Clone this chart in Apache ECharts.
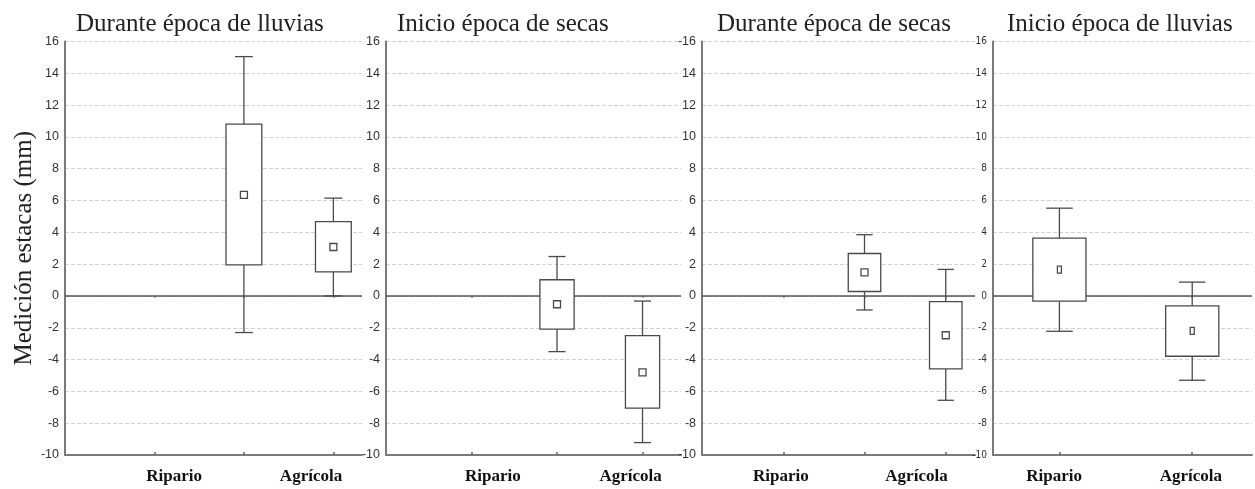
<!DOCTYPE html>
<html>
<head>
<meta charset="utf-8">
<script src="https://cdn.jsdelivr.net/npm/echarts@6/dist/echarts.min.js"></script>
<style>
  html, body { margin: 0; padding: 0; background: #fff; }
  #chart { width: 1255px; height: 489px; }
</style>
</head>
<body>
<div id="chart"></div>
<script>
// Medición de estacas (mm) por zona y época
const categories = ['Ripario', 'Agrícola'];
const panelTitles = [
  'Durante época de lluvias',
  'Inicio época de secas',
  'Durante época de secas',
  'Inicio época de lluvias'
];

// Each entry: [mínimo, Q1, centro, Q3, máximo] for Ripario and Agrícola
const duranteLluvias = [[-2.3, 1.95, 6.35, 10.8, 15.05], [0.0, 1.52, 3.08, 4.67, 6.15]];
const inicioSecas    = [[-3.5, -2.08, -0.52, 1.02, 2.48], [-9.22, -7.05, -4.8, -2.5, -0.32]];
const duranteSecas   = [[-0.88, 0.28, 1.48, 2.67, 3.85], [-6.56, -4.58, -2.47, -0.36, 1.67]];
const inicioLluvias  = [[-2.22, -0.33, 1.65, 3.64, 5.52], [-5.3, -3.79, -2.2, -0.62, 0.87]];
const panelData = [duranteLluvias, inicioSecas, duranteSecas, inicioLluvias];

// y tick labels (-10 … 16); the third panel prints its top tick as "-16"
const yTickLabels = ['-10', '-8', '-6', '-4', '-2', '0', '2', '4', '6', '8', '10', '12', '14', '16'];
const yTickLabelsSecas = ['-10', '-8', '-6', '-4', '-2', '0', '2', '4', '6', '8', '10', '12', '14', '-16'];
const panelTickLabels = [yTickLabels, yTickLabels, yTickLabelsSecas, yTickLabels];

// Panel geometry and slot positions on each x scale
const layout = [
  { left: 65,  width: 297, xMax: 3.32, slots: [2, 3],     ticks: [1, 2, 3],  labelAt: [1.22, 2.75], titleLeft: 71,  mark: [7, 7], narrow: false },
  { left: 386, width: 295, xMax: 3.45, slots: [2, 3],     ticks: [1, 2, 3],  labelAt: [1.25, 2.86], titleLeft: 392, mark: [7, 7], narrow: false },
  { left: 702, width: 273, xMax: 3.36, slots: [2, 3],     ticks: [1, 2, 3],  labelAt: [0.97, 2.64], titleLeft: 712, mark: [7, 7], narrow: false },
  { left: 993, width: 259, xMax: 1.95, slots: [0.5, 1.5], ticks: [0.5, 1.5], labelAt: [0.46, 1.49], titleLeft: 1002, mark: [4, 7], narrow: true }
];

const INK = '#4a4a4a';
const AXIS = '#7a7a7a';

function renderBox(mark) {
  return function (params, api) {
    const x = api.value(0);
    const lo = api.coord([x, api.value(1)]);
    const q1 = api.coord([x, api.value(2)]);
    const c = api.coord([x, api.value(3)]);
    const q3 = api.coord([x, api.value(4)]);
    const hi = api.coord([x, api.value(5)]);
    const bw = api.size([0.4, 0])[0];
    const cw = api.size([0.2, 0])[0];
    const st = { stroke: INK, lineWidth: 1.3, fill: null };
    return {
      type: 'group',
      children: [
        { type: 'line', shape: { x1: lo[0], y1: lo[1], x2: q1[0], y2: q1[1] }, style: st },
        { type: 'line', shape: { x1: q3[0], y1: q3[1], x2: hi[0], y2: hi[1] }, style: st },
        { type: 'line', shape: { x1: lo[0] - cw / 2, y1: lo[1], x2: lo[0] + cw / 2, y2: lo[1] }, style: st },
        { type: 'line', shape: { x1: hi[0] - cw / 2, y1: hi[1], x2: hi[0] + cw / 2, y2: hi[1] }, style: st },
        { type: 'rect', shape: { x: q3[0] - bw / 2, y: q3[1], width: bw, height: q1[1] - q3[1] },
          style: { stroke: INK, lineWidth: 1.3, fill: '#fff' } },
        { type: 'rect', shape: { x: c[0] - mark[0] / 2, y: c[1] - mark[1] / 2, width: mark[0], height: mark[1] },
          style: { stroke: INK, lineWidth: 1.3, fill: '#fff' } }
      ]
    };
  };
}

const grids = [], xAxes = [], yAxes = [], series = [], titles = [];

layout.forEach((L, i) => {
  grids.push({ left: L.left, width: L.width, top: 41.5, bottom: 34 });

  const labelAt = L.labelAt;
  // bottom axis: line, inward ticks and the category names
  xAxes.push({
    type: 'value', gridIndex: i, position: 'bottom', min: 0, max: L.xMax,
    axisLine: { show: true, onZero: false, lineStyle: { color: AXIS, width: 2 } },
    axisTick: { show: true, inside: true, length: 3, customValues: L.ticks, lineStyle: { color: '#666', width: 1.5 } },
    axisLabel: {
      show: true, customValues: labelAt, margin: 13,
      formatter: v => categories[labelAt.indexOf(v)] || '',
      fontFamily: 'Liberation Serif', fontWeight: 'bold', fontSize: 17, color: '#111'
    },
    splitLine: { show: false }
  });
  // top edge: tick marks only
  xAxes.push({
    type: 'value', gridIndex: i, position: 'top', min: 0, max: L.xMax,
    axisLine: { show: false },
    axisTick: { show: true, inside: true, length: 2, customValues: L.ticks, lineStyle: { color: '#888', width: 1.5 } },
    axisLabel: { show: false },
    splitLine: { show: false }
  });

  const tl = panelTickLabels[i];
  yAxes.push({
    type: 'value', gridIndex: i, min: -10, max: 16, interval: 2,
    axisLine: { show: true, lineStyle: { color: AXIS, width: 2 } },
    axisTick: { show: false },
    axisLabel: {
      margin: 6,
      formatter: v => tl[Math.round((v + 10) / 2)],
      fontFamily: L.narrow ? "'Liberation Sans Narrow', 'DejaVu Sans Condensed', sans-serif" : 'Liberation Sans',
      fontSize: L.narrow ? 10 : 12.5, color: '#333'
    },
    splitLine: { show: true, lineStyle: { color: '#d2d2d2', width: 1, type: [4, 2] } },
    name: i === 0 ? 'Medición estacas (mm)' : '',
    nameLocation: 'middle', nameGap: 28, nameRotate: 90,
    nameTextStyle: { fontFamily: 'Liberation Serif', fontSize: 25, color: '#222' }
  });

  series.push({
    type: 'custom',
    xAxisIndex: i * 2, yAxisIndex: i,
    renderItem: renderBox(L.mark),
    data: panelData[i].map((d, k) => [L.slots[k]].concat(d)),
    z: 3,
    markLine: {
      silent: true, symbol: 'none', label: { show: false },
      lineStyle: { color: '#555', width: 1.6, type: 'solid' },
      data: [{ yAxis: 0 }],
      z: 2
    }
  });

  titles.push({
    text: panelTitles[i], left: L.titleLeft, top: 7,
    textStyle: { fontFamily: 'Liberation Serif', fontWeight: 'normal', fontSize: 25, color: '#222' }
  });
});

const chart = echarts.init(document.getElementById('chart'), null, { renderer: 'canvas' });
chart.setOption({
  animation: false,
  backgroundColor: '#fff',
  title: titles,
  grid: grids,
  xAxis: xAxes,
  yAxis: yAxes,
  series: series
});
</script>
</body>
</html>
